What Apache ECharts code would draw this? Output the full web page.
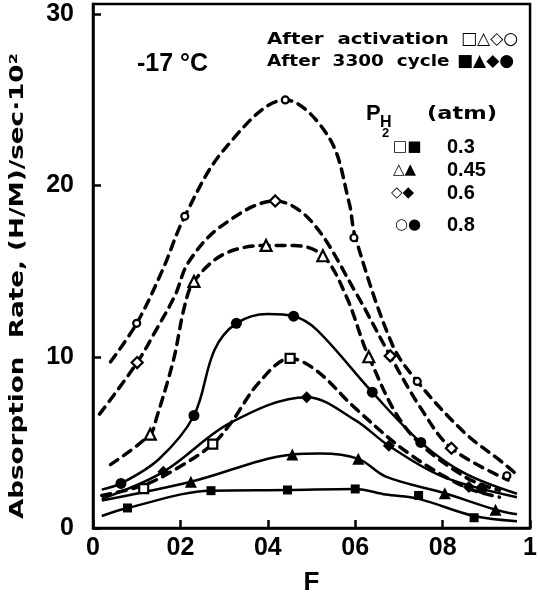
<!DOCTYPE html>
<html><head><meta charset="utf-8">
<script src="https://cdn.jsdelivr.net/npm/echarts@6/dist/echarts.min.js"></script>
<style>html,body{margin:0;padding:0;background:#fff}#c{width:540px;height:601px}</style>
</head><body><div id="c"></div>
<script>
// ---- data (F, absorption rate) ----
const xTickValues = [0, 0.2, 0.4, 0.6, 0.8, 1];
const xTickLabels = ['0', '02', '04', '06', '08', '1'];
const yTickValues = [0, 10, 20, 30];

// markers: after activation (open)
const actSquarePts   = [[0.116,2.3],[0.274,4.9],[0.451,9.9]];
const actTrianglePts = [[0.131,5.48],[0.231,14.4],[0.396,16.5],[0.526,15.9],[0.631,10.0]];
const actDiamondPts  = [[0.101,9.66],[0.417,19.1],[0.68,10.05],[0.82,4.66]];
const actCirclePts   = [[0.1,11.95],[0.21,18.2],[0.44,25.0],[0.597,16.95],[0.742,8.56],[0.947,3.05]];
// markers: after 3300 cycles (filled)
const cycSquarePts   = [[0.079,1.17],[0.27,2.18],[0.445,2.22],[0.6,2.28],[0.745,1.9],[0.872,0.6]];
const cycTrianglePts = [[0.224,2.7],[0.456,4.29],[0.607,4.04],[0.805,2.03],[0.921,1.07]];
const cycDiamondPts  = [[0.161,3.28],[0.489,7.64],[0.677,4.8],[0.86,2.4]];
const cycCirclePts   = [[0.064,2.6],[0.231,6.57],[0.328,11.95],[0.459,12.37],[0.639,7.93],[0.75,5.0],[0.89,2.3]];

// fitted curves
const actSquareCurve   = [[0.02,1.9],[0.116,2.5],[0.2,3.6],[0.274,4.9],[0.316,6.15],[0.38,8.5],[0.451,9.9],[0.511,9.2],[0.6,7.0],[0.72,4.4],[0.85,2.4],[0.93,1.8]];
const actTriangleCurve = [[0.04,3.7],[0.131,5.48],[0.145,6.4],[0.184,9.8],[0.21,13.0],[0.231,14.4],[0.3,16.0],[0.396,16.5],[0.46,16.5],[0.526,15.9],[0.58,13.5],[0.631,10.0],[0.72,5.7],[0.85,3.0],[0.93,2.2]];
const actDiamondCurve  = [[0.015,6.65],[0.101,9.66],[0.143,11.5],[0.188,13.6],[0.218,15.5],[0.292,17.6],[0.417,19.1],[0.5,17.9],[0.6,13.8],[0.68,10.05],[0.75,7.0],[0.82,4.66],[0.95,2.8]];
const actCircleCurve   = [[0.04,9.7],[0.1,11.95],[0.158,15.0],[0.21,18.2],[0.3,22.1],[0.44,25.0],[0.54,22.8],[0.586,19.0],[0.6,17.0],[0.685,10.7],[0.742,8.56],[0.85,5.57],[0.936,3.85],[0.975,3.0]];
const cycSquareCurve   = [[0.02,0.7],[0.079,1.17],[0.27,2.18],[0.445,2.22],[0.6,2.28],[0.67,1.95],[0.745,1.7],[0.872,0.7],[0.97,0.4]];
const cycTriangleCurve = [[0.02,1.6],[0.224,2.7],[0.456,4.29],[0.52,4.35],[0.607,4.04],[0.67,3.0],[0.805,2.03],[0.921,1.07],[0.97,0.8]];
const cycDiamondCurve  = [[0.02,1.7],[0.161,3.28],[0.315,6.15],[0.489,7.64],[0.6,6.3],[0.677,4.8],[0.8,3.0],[0.97,1.8]];
const cycCircleCurve   = [[0.02,2.24],[0.064,2.6],[0.15,4.0],[0.231,6.57],[0.278,10.4],[0.328,11.95],[0.4,12.5],[0.459,12.37],[0.511,11.6],[0.639,7.93],[0.75,5.0],[0.85,3.2],[0.97,2.0]];

// ---- chart ----
const chart = echarts.init(document.getElementById('c'));
const dashed = {color:'#000', width:3.5, type:[9,7], cap:'round'};
const solid = {color:'#000', width:2.5, type:'solid'};
function curve(data, ls){ return {type:'line', data, smooth:0.35, showSymbol:false, symbol:'none', lineStyle:ls, silent:true, z:2}; }
function marks(data, sym, size, filled){
  return {type:'scatter', data, symbol:sym, symbolSize:size, z:5,
    itemStyle:{color: filled ? '#000' : '#fff', borderColor:'#000', borderWidth: filled ? 0 : 2.2, opacity:1}};
}
function gtext(x, y, text, font, size, extraStyle, extra){
  const style = Object.assign({text, fill:'#000', font:'bold ' + size + 'px ' + font, textVerticalAlign:'middle'}, extraStyle || {});
  return Object.assign({type:'text', x, y, z:10, style}, extra || {});
}
const SANS = '"DejaVu Sans", sans-serif';
const LIB = '"Liberation Sans", Arial, sans-serif';

chart.setOption({
  animation:false,
  backgroundColor:'#fff',
  grid:{left:93, right:3, top:4, bottom:64, show:true, borderColor:'#000', borderWidth:2.5, backgroundColor:'transparent'},
  xAxis:{type:'value', min:0, max:1, interval:0.2,
    axisLine:{lineStyle:{color:'#000', width:2.5}},
    axisTick:{inside:true, length:8, lineStyle:{color:'#000', width:2.5}},
    splitLine:{show:false},
    axisLabel:{color:'#000', fontFamily:LIB, fontWeight:'bold', fontSize:25, margin:8,
      formatter:v => { const i = xTickValues.findIndex(t => Math.abs(t - v) < 1e-6); return i >= 0 ? xTickLabels[i] : ''; }},
    name:'F', nameLocation:'middle', nameGap:42,
    nameTextStyle:{color:'#000', fontFamily:LIB, fontWeight:'bold', fontSize:26}},
  yAxis:{type:'value', min:0, max:30.6,
    axisLine:{lineStyle:{color:'#000', width:2.5}},
    axisTick:{inside:true, length:8, customValues:yTickValues, lineStyle:{color:'#000', width:2.5}},
    splitLine:{show:false},
    axisLabel:{color:'#000', fontFamily:LIB, fontWeight:'bold', fontSize:25, margin:19, customValues:yTickValues}},
  graphic:[
    gtext(18, 286, 'Absorption  Rate, (H/M)/sec·10²', SANS, 19, {textAlign:'center'}, {rotation:Math.PI/2, scaleX:1.38}),
    gtext(137, 64, '-17 °C', LIB, 25),
    gtext(267, 40, 'After  activation', SANS, 15, null, {scaleX:1.32}),
    gtext(267, 62, 'After  3300  cycle', SANS, 15, null, {scaleX:1.23}),
    gtext(461, 40, '□△◇○', SANS, 17),
    gtext(457, 62, '■▲◆●', SANS, 17),
    gtext(366, 114, 'P', LIB, 22),
    gtext(380, 123, 'H', LIB, 16),
    gtext(382, 133, '2', LIB, 13),
    gtext(427, 114, '(atm)', SANS, 18, null, {scaleX:1.25}),
    gtext(393, 147, '□■', SANS, 15),
    gtext(393, 170, '△▲', SANS, 15),
    gtext(391, 193, '◇◆', SANS, 15),
    gtext(395, 225, '○●', SANS, 15),
    gtext(447, 147, '0.3', LIB, 20),
    gtext(447, 170, '0.45', LIB, 20),
    gtext(447, 193, '0.6', LIB, 20),
    gtext(447, 225, '0.8', LIB, 20)
  ],
  series:[
    curve(actSquareCurve, dashed), curve(actTriangleCurve, dashed), curve(actDiamondCurve, dashed), curve(actCircleCurve, dashed),
    curve(cycSquareCurve, solid), curve(cycTriangleCurve, solid), curve(cycDiamondCurve, solid), curve(cycCircleCurve, solid),
    marks(actSquarePts, 'rect', 9, false), marks(actTrianglePts, 'triangle', 11, false),
    marks(actDiamondPts, 'diamond', 11, false), marks(actCirclePts, 'circle', 7, false),
    marks(cycSquarePts, 'rect', 9, true), marks(cycTrianglePts, 'triangle', 12, true),
    marks(cycDiamondPts, 'diamond', 12, true), marks(cycCirclePts, 'circle', 11, true)
  ]
});
</script></body></html>
